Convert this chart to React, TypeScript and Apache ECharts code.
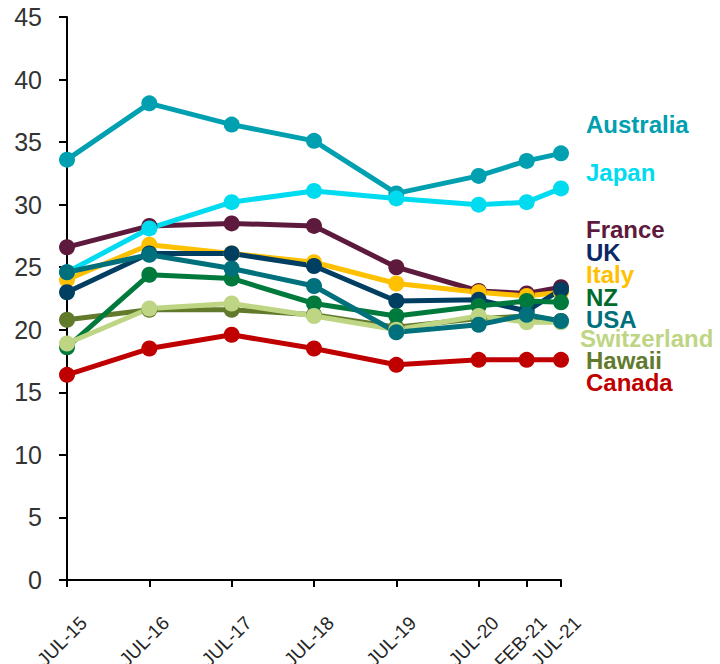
import React, { useEffect, useRef } from "react";
import * as echarts from "echarts";

const dates = ["2015-07", "2016-07", "2017-07", "2018-07", "2019-07", "2020-07", "2021-02", "2021-07"];
const tickLabels = ["JUL-15", "JUL-16", "JUL-17", "JUL-18", "JUL-19", "JUL-20", "FEB-21", "JUL-21"];

const australia = [33.6, 38.1, 36.4, 35.1, 30.9, 32.3, 33.5, 34.1];
const japan = [24.6, 28.1, 30.2, 31.1, 30.5, 30.0, 30.2, 31.3];
const france = [26.6, 28.3, 28.5, 28.3, 25.0, 23.1, 22.9, 23.4];
const italy = [24.0, 26.8, 26.1, 25.4, 23.7, 23.0, 22.7, 23.0];
const uk = [23.0, 26.1, 26.1, 25.1, 22.3, 22.4, 21.5, 23.2];
const hawaii = [20.8, 21.6, 21.6, 21.2, 20.2, 20.9, 21.1, 20.7];
const nz = [18.6, 24.4, 24.1, 22.1, 21.1, 21.9, 22.3, 22.2];
const switzerland = [18.9, 21.7, 22.1, 21.1, 20.0, 21.1, 20.6, 20.6];
const usa = [24.6, 26.0, 24.9, 23.5, 19.8, 20.4, 21.2, 20.7];
const canada = [16.4, 18.5, 19.6, 18.5, 17.2, 17.6, 17.6, 17.6];

const seriesDefs = [
  { name: "Australia", data: australia, color: "#00a0b0", labelColor: "#00a0b0", labelY: 126 },
  { name: "France", data: france, color: "#5e1a3c", labelColor: "#5e1a3c", labelY: 231 },
  { name: "Japan", data: japan, color: "#00dbf0", labelColor: "#00dbf0", labelY: 174 },
  { name: "Italy", data: italy, color: "#ffc000", labelColor: "#ffc000", labelY: 276 },
  { name: "UK", data: uk, color: "#003e62", labelColor: "#0c2766", labelY: 254 },
  { name: "Hawaii", data: hawaii, color: "#617a2b", labelColor: "#617a2b", labelY: 362 },
  { name: "NZ", data: nz, color: "#007a3c", labelColor: "#006b2d", labelY: 299 },
  { name: "Switzerland", data: switzerland, color: "#bed584", labelColor: "#bed584", labelY: 340 },
  { name: "USA", data: usa, color: "#00717c", labelColor: "#00717c", labelY: 321 },
  { name: "Canada", data: canada, color: "#c00000", labelColor: "#c00000", labelY: 384 },
];

const monthIndex = (d: string) => {
  const [y, m] = d.split("-").map(Number);
  return (y - 2015) * 12 + (m - 7);
};
const months = dates.map(monthIndex);

export default function App() {
  const ref = useRef<HTMLDivElement>(null);
  useEffect(() => {
    if (!ref.current) return;
    const chart = echarts.init(ref.current, undefined, { renderer: "svg" });
    const labelMap: Record<number, string> = {};
    months.forEach((m, i) => (labelMap[m] = tickLabels[i]));
    chart.setOption({
      animation: false,
      backgroundColor: "#ffffff",
      grid: { left: 67, right: 159, top: 17, bottom: 84, containLabel: false, outerBoundsMode: "none" },
      xAxis: {
        type: "value",
        min: 0,
        max: 72,
        splitLine: { show: false },
        axisLine: { show: true, onZero: false, lineStyle: { color: "#000", width: 2 } },
        axisTick: { show: true, customValues: months, length: 7, lineStyle: { color: "#000", width: 2 } },
        axisLabel: {
          customValues: months,
          formatter: (v: number) => labelMap[v] ?? "",
          rotate: 45,
          fontSize: 19,
          color: "#262626",
          fontFamily: "Liberation Sans",
          margin: 23,
          verticalAlign: "top",
          padding: [14, 0, 0, 0],
        },
      },
      yAxis: {
        type: "value",
        min: 0,
        max: 45,
        interval: 5,
        splitLine: { show: false },
        axisLine: { show: true, lineStyle: { color: "#000", width: 2 } },
        axisTick: { show: true, length: 8, lineStyle: { color: "#000", width: 2 } },
        axisLabel: { fontSize: 25, color: "#333333", fontFamily: "Liberation Sans", margin: 25 },
      },
      series: seriesDefs.map((s) => ({
        name: s.name,
        type: "line",
        data: s.data.map((v, i) => [months[i], v]),
        symbol: "circle",
        symbolSize: 16,
        showSymbol: true,
        lineStyle: { color: s.color, width: 5 },
        itemStyle: { color: s.color },
        z: 2,
      })),
      graphic: seriesDefs.map((s) => ({
        type: "text",
        left: s.name === "Switzerland" ? 580 : 586,
        top: s.labelY - 14,
        style: {
          text: s.name,
          fill: s.labelColor,
          font: "bold 24px 'Liberation Sans', Arial, sans-serif",
        },
      })),
    });
    return () => chart.dispose();
  }, []);
  return <div ref={ref} style={{ width: 720, height: 664, position: "absolute", left: 0, top: 0 }} />;
}
